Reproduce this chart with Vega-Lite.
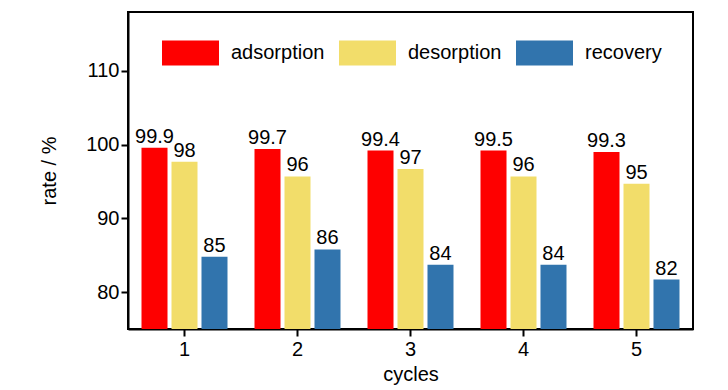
{
  "$schema": "https://vega.github.io/schema/vega-lite/v6.json",
  "width": 565,
  "height": 317,
  "autosize": {"type": "none"},
  "padding": {"left": 128, "top": 12, "right": 35, "bottom": 61},
  "background": "white",
  "config": {
    "font": "Liberation Sans",
    "view": {"stroke": "black", "strokeWidth": 2},
    "axis": {
      "labelFont": "Liberation Sans",
      "titleFont": "Liberation Sans",
      "labelFontSize": 20,
      "titleFontSize": 20,
      "titleFontWeight": "normal",
      "labelColor": "black",
      "titleColor": "black",
      "domainColor": "black",
      "domainWidth": 2,
      "tickColor": "black",
      "tickWidth": 2,
      "tickSize": 7,
      "grid": false
    }
  },
  "data": {
    "values": [
      {"cycle": "1", "type": "adsorption", "value": 99.6, "label": "99.9"},
      {"cycle": "1", "type": "desorption", "value": 97.7, "label": "98"},
      {"cycle": "1", "type": "recovery", "value": 84.8, "label": "85"},
      {"cycle": "2", "type": "adsorption", "value": 99.4, "label": "99.7"},
      {"cycle": "2", "type": "desorption", "value": 95.7, "label": "96"},
      {"cycle": "2", "type": "recovery", "value": 85.8, "label": "86"},
      {"cycle": "3", "type": "adsorption", "value": 99.2, "label": "99.4"},
      {"cycle": "3", "type": "desorption", "value": 96.7, "label": "97"},
      {"cycle": "3", "type": "recovery", "value": 83.7, "label": "84"},
      {"cycle": "4", "type": "adsorption", "value": 99.2, "label": "99.5"},
      {"cycle": "4", "type": "desorption", "value": 95.7, "label": "96"},
      {"cycle": "4", "type": "recovery", "value": 83.7, "label": "84"},
      {"cycle": "5", "type": "adsorption", "value": 99.0, "label": "99.3"},
      {"cycle": "5", "type": "desorption", "value": 94.7, "label": "95"},
      {"cycle": "5", "type": "recovery", "value": 81.7, "label": "82"}
    ]
  },
  "encoding": {
    "x": {
      "field": "cycle",
      "type": "nominal",
      "scale": {"paddingInner": 0.239, "paddingOuter": 0.1195},
      "axis": {"title": "cycles", "labelAngle": 0, "labelPadding": 3, "titlePadding": 5}
    },
    "xOffset": {
      "field": "type",
      "type": "nominal",
      "sort": ["adsorption", "desorption", "recovery"],
      "scale": {"paddingInner": 0.133, "paddingOuter": 0}
    },
    "y": {
      "field": "value",
      "type": "quantitative",
      "scale": {"domain": [75, 118], "nice": false, "zero": false},
      "axis": {"title": "rate / %", "values": [80, 90, 100, 110], "labelPadding": 2, "titlePadding": 26}
    }
  },
  "layer": [
    {
      "mark": {"type": "bar", "clip": true},
      "encoding": {
        "color": {
          "field": "type",
          "type": "nominal",
          "sort": ["adsorption", "desorption", "recovery"],
          "scale": {"domain": ["adsorption", "desorption", "recovery"], "range": ["#fe0000", "#f2dd6a", "#3174ad"]},
          "legend": {
            "title": null,
            "orient": "none",
            "legendX": 34,
            "legendY": 12,
            "direction": "horizontal",
            "padding": 0,
            "symbolType": "M-1,-0.44H1V0.44H-1Z",
            "symbolSize": 3249,
            "symbolStrokeWidth": 0,
            "symbolOpacity": 1,
            "labelFont": "Liberation Sans",
            "labelFontSize": 20,
            "labelColor": "black",
            "labelOffset": 12,
            "columnPadding": 14
          }
        }
      }
    },
    {
      "mark": {"type": "text", "baseline": "bottom", "dy": -1, "fontSize": 20, "font": "Liberation Sans", "color": "black"},
      "encoding": {"text": {"field": "label"}}
    }
  ]
}
